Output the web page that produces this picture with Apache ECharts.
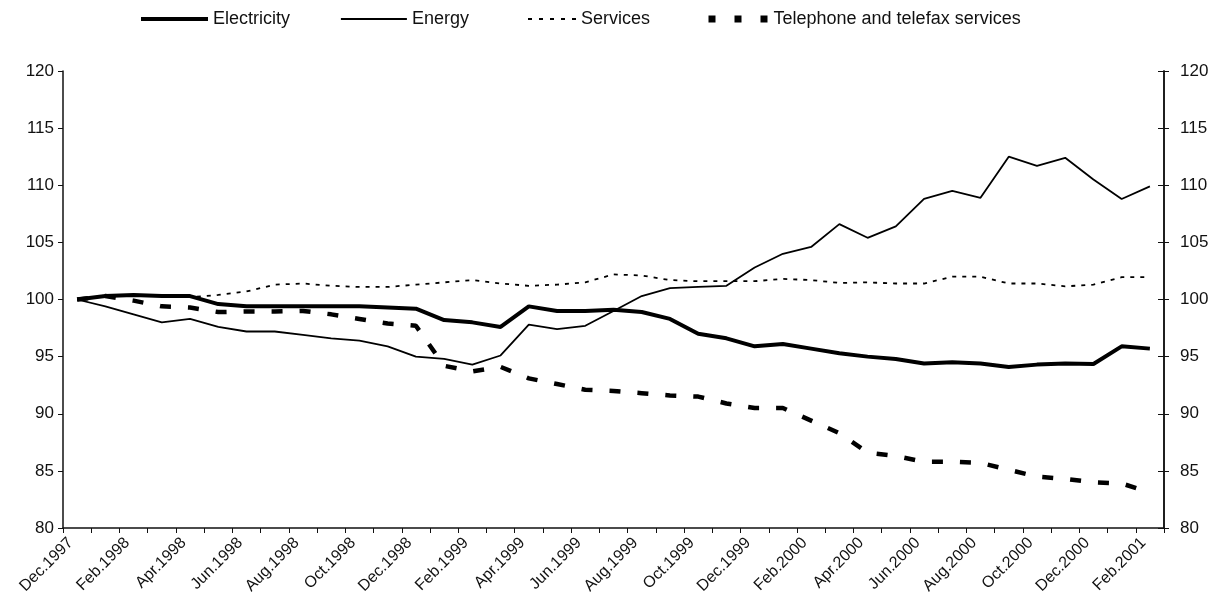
<!DOCTYPE html>
<html>
<head>
<meta charset="utf-8">
<script src="https://cdn.jsdelivr.net/npm/echarts@6/dist/echarts.min.js"></script>
<style>
  html, body { margin: 0; padding: 0; background: #fff; }
  #chart { width: 1222px; height: 603px; }
</style>
</head>
<body>
<div id="chart"></div>
<script>
// months Dec.1997 .. Feb.2001
const months = [
  'Dec.1997', 'Jan.1998', 'Feb.1998', 'Mar.1998', 'Apr.1998', 'May.1998', 'Jun.1998', 'Jul.1998',
  'Aug.1998', 'Sep.1998', 'Oct.1998', 'Nov.1998', 'Dec.1998', 'Jan.1999', 'Feb.1999', 'Mar.1999',
  'Apr.1999', 'May.1999', 'Jun.1999', 'Jul.1999', 'Aug.1999', 'Sep.1999', 'Oct.1999', 'Nov.1999',
  'Dec.1999', 'Jan.2000', 'Feb.2000', 'Mar.2000', 'Apr.2000', 'May.2000', 'Jun.2000', 'Jul.2000',
  'Aug.2000', 'Sep.2000', 'Oct.2000', 'Nov.2000', 'Dec.2000', 'Jan.2001', 'Feb.2001'
];

const electricity = [
  100, 100.3, 100.4, 100.3, 100.3, 99.6, 99.4, 99.4, 99.4, 99.4, 99.4, 99.3, 99.2,
  98.2, 98.0, 97.6, 99.4, 99.0, 99.0, 99.1, 98.9, 98.3, 97.0, 96.6, 95.9, 96.1,
  95.7, 95.3, 95.0, 94.8, 94.4, 94.5, 94.4, 94.1, 94.3, 94.4, 94.35, 95.9, 95.7
];

const energy = [
  100, 99.4, 98.7, 98.0, 98.3, 97.6, 97.2, 97.2, 96.9, 96.6, 96.4, 95.9, 95.0,
  94.8, 94.3, 95.1, 97.8, 97.4, 97.7, 99.0, 100.3, 101.0, 101.1, 101.2, 102.8, 104.0,
  104.6, 106.6, 105.4, 106.4, 108.8, 109.5, 108.9, 112.5, 111.7, 112.4, 110.5, 108.8, 109.9
];

const services = [
  100, 100.3, 100.4, 100.3, 100.2, 100.4, 100.7, 101.3, 101.4, 101.2, 101.1, 101.1, 101.3,
  101.5, 101.7, 101.4, 101.2, 101.3, 101.5, 102.2, 102.1, 101.7, 101.6, 101.6, 101.6, 101.8,
  101.7, 101.45, 101.5, 101.4, 101.4, 102.0, 102.0, 101.4, 101.4, 101.15, 101.3, 101.95, 101.95
];

const telephone = [
  100, 100.3, 99.9, 99.4, 99.3, 98.9, 98.95, 98.95, 99.0, 98.7, 98.3, 97.9, 97.7,
  94.2, 93.7, 94.1, 93.1, 92.6, 92.1, 92.0, 91.8, 91.6, 91.5, 90.9, 90.5, 90.5,
  89.4, 88.3, 86.6, 86.3, 85.8, 85.8, 85.7, 85.1, 84.5, 84.3, 84.0, 83.9, 83.1
];

const yTicks = { min: 80, max: 120, step: 5 };

const font = 'Liberation Sans, Arial, sans-serif';
const ink = '#111';

const chart = echarts.init(document.getElementById('chart'));

// one legend per item so each key can have its own length
const legendBase = {
  top: 5,
  itemHeight: 10,
  selectedMode: false,
  itemStyle: { opacity: 0 },
  textStyle: { fontFamily: font, fontSize: 18, color: ink }
};
const makeLegend = (name, left, width, line) => Object.assign({}, legendBase, {
  left: left, itemWidth: width, data: [name],
  lineStyle: Object.assign({ color: '#000' }, line)
});

const yAxisBase = {
  type: 'value',
  min: yTicks.min,
  max: yTicks.max,
  interval: yTicks.step,
  splitLine: { show: false },
  axisLine: { show: true, lineStyle: { color: ink, width: 1.5 } },
  axisTick: { show: true, length: 5, lineStyle: { color: ink } },
  axisLabel: { fontFamily: font, fontSize: 17, color: ink, margin: 9 }
};

chart.setOption({
  backgroundColor: '#fff',
  animation: false,
  legend: [
    makeLegend('Electricity', 134, 67, { width: 4 }),
    makeLegend('Energy', 335, 66, { width: 1.8 }),
    makeLegend('Services', 522, 48, { width: 2, type: [4, 7] }),
    makeLegend('Telephone and telefax services', 700, 60, { width: 7, type: [7, 19] })
  ],
  grid: { left: 63, right: 58, top: 71, bottom: 75, containLabel: false },
  xAxis: {
    type: 'category',
    data: months,
    boundaryGap: true,
    axisLine: { lineStyle: { color: ink, width: 1.5 } },
    axisTick: { show: true, interval: 0, length: 5, lineStyle: { color: ink } },
    axisLabel: {
      interval: 1,
      rotate: 45,
      fontFamily: font,
      fontSize: 16,
      color: ink,
      margin: 6,
      padding: [0, 9, 18, 0]
    }
  },
  yAxis: [
    Object.assign({}, yAxisBase, { position: 'left' }),
    Object.assign({}, yAxisBase, {
      position: 'right',
      axisLabel: Object.assign({}, yAxisBase.axisLabel, { margin: 16 })
    }),
    // inner half of the crossing ticks on the right axis
    Object.assign({}, yAxisBase, {
      position: 'right',
      axisTick: { show: true, inside: true, length: 6, lineStyle: { color: ink } },
      axisLabel: { show: false }
    })
  ],
  series: [
    {
      name: 'Electricity', type: 'line', data: electricity,
      showSymbol: false, symbol: 'none',
      lineStyle: { color: '#000', width: 4 }, itemStyle: { color: '#000' }
    },
    {
      name: 'Energy', type: 'line', data: energy,
      showSymbol: false, symbol: 'none',
      lineStyle: { color: '#000', width: 1.8 }, itemStyle: { color: '#000' }
    },
    {
      name: 'Services', type: 'line', data: services,
      showSymbol: false, symbol: 'none',
      lineStyle: { color: '#000', width: 1.8, type: [4, 6] }, itemStyle: { color: '#000' }
    },
    {
      name: 'Telephone and telefax services', type: 'line', data: telephone,
      showSymbol: false, symbol: 'none',
      lineStyle: { color: '#000', width: 4.5, type: [11, 17] }, itemStyle: { color: '#000' }
    }
  ]
});
</script>
</body>
</html>
